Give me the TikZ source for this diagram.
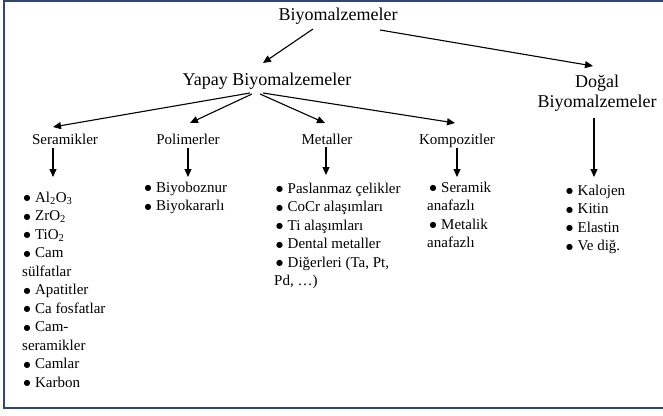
\documentclass[tikz,border=0pt]{standalone}
\usepackage{fontspec}
\setmainfont{Liberation Serif}
\newfontfamily\djv{DejaVu Sans}
\usetikzlibrary{arrows.meta,calc}
\newcommand{\blt}{\makebox[11.5pt][l]{\raisebox{1.2pt}{\djv\fontsize{8}{8}\selectfont ●}}}
\begin{document}
\begin{tikzpicture}[x=1pt,y=-1pt,
  lbl/.style={inner sep=0pt, anchor=base, font=\fontsize{18}{20}\selectfont},
  sub/.style={inner sep=0pt, anchor=base, font=\fontsize{15}{18.5}\selectfont},
  lst/.style={inner sep=0pt, anchor=base west, font=\fontsize{15}{18.5}\selectfont},
  arr/.style={line width=1.1pt, -{Triangle[length=8pt,width=7pt]}},
  frame/.style={draw={rgb,255:red,47;green,72;blue,112}, line width=2.2pt}]
\useasboundingbox (0,0) rectangle (663,415);
\clip (0,0) rectangle (663,415);
\draw[frame] (4.3,1.3) rectangle (700,408);

\node[lbl] (bio) at (338,20) {Biyomalzemeler};
\node[lbl] (yap) at (267,85) {Yapay Biyomalzemeler};
\node[lbl] (dog) at (597,87) {\begin{tabular}[t]{@{}c@{}}Doğal\\Biyomalzemeler\end{tabular}};

\node[sub] (ser) at (65,144) {Seramikler};
\node[sub] (pol) at (188,144) {Polimerler};
\node[sub] (met) at (327,144) {Metaller};
\node[sub] (kom) at (457,144) {Kompozitler};

\node[lst] (serl) at (22,202) {\begin{tabular}[t]{@{}l@{}}
\hspace{1.4pt}\blt Al\textsubscript{2}O\textsubscript{3}\\
\hspace{1.4pt}\blt ZrO\textsubscript{2}\\
\hspace{1.4pt}\blt TiO\textsubscript{2}\\
\hspace{1.4pt}\blt Cam\\
sülfatlar\\
\hspace{1.4pt}\blt Apatitler\\
\hspace{1.4pt}\blt Ca fosfatlar\\
\hspace{1.4pt}\blt Cam-\\
seramikler\\
\hspace{1.4pt}\blt Camlar\\
\hspace{1.4pt}\blt Karbon
\end{tabular}};
\node[lst] (poll) at (144.5,192) {\begin{tabular}[t]{@{}l@{}}
\blt Biyoboznur\\
\blt Biyokararlı
\end{tabular}};
\node[lst] (metl) at (274,193) {\begin{tabular}[t]{@{}l@{}}
\hspace{2pt}\blt Paslanmaz çelikler\\
\hspace{2pt}\blt CoCr alaşımları\\
\hspace{2pt}\blt Ti alaşımları\\
\hspace{2pt}\blt Dental metaller\\
\hspace{2pt}\blt Diğerleri (Ta, Pt,\\
Pd, …)
\end{tabular}};
\node[lst] (koml) at (427,192) {\begin{tabular}[t]{@{}l@{}}
\hspace{2.5pt}\blt Seramik\\
anafazlı\\
\hspace{2.5pt}\blt Metalik\\
anafazlı
\end{tabular}};
\node[lst] (dogl) at (566,195) {\begin{tabular}[t]{@{}l@{}}
\blt Kalojen\\
\blt Kitin\\
\blt Elastin\\
\blt Ve diğ.
\end{tabular}};

\draw[arr] ($(bio.base)+(-25,9)$) -- ($(yap.base)+(-4,-22)$);
\draw[arr] ($(bio.base)+(42,10)$) -- ($(dog.base)+(-4,-21)$);
\draw[arr] ($(yap.base)+(-17,8)$) -- ($(ser.base)+(-12,-17)$);
\draw[arr] ($(yap.base)+(-15,9)$) -- ($(pol.base)+(2,-21)$);
\draw[arr] ($(yap.base)+(-7,9)$) -- ($(met.base)+(-2,-21)$);
\draw[arr] ($(yap.base)+(-4,8)$) -- ($(kom.base)+(-2,-21)$);

\draw[arr] ($(ser.base)+(-12,4)$) -- ($(ser.base)+(-12,33)$);
\draw[arr] ($(pol.base)+(0,4)$) -- ($(pol.base)+(0,33)$);
\draw[arr] ($(met.base)+(-1,3)$) -- ($(met.base)+(-1,31)$);
\draw[arr] ($(kom.base)+(0,4)$) -- ($(kom.base)+(0,33)$);
\draw[arr] ($(dog.base)+(-3,31)$) -- ($(dog.base)+(-3,90)$);
\end{tikzpicture}
\end{document}
